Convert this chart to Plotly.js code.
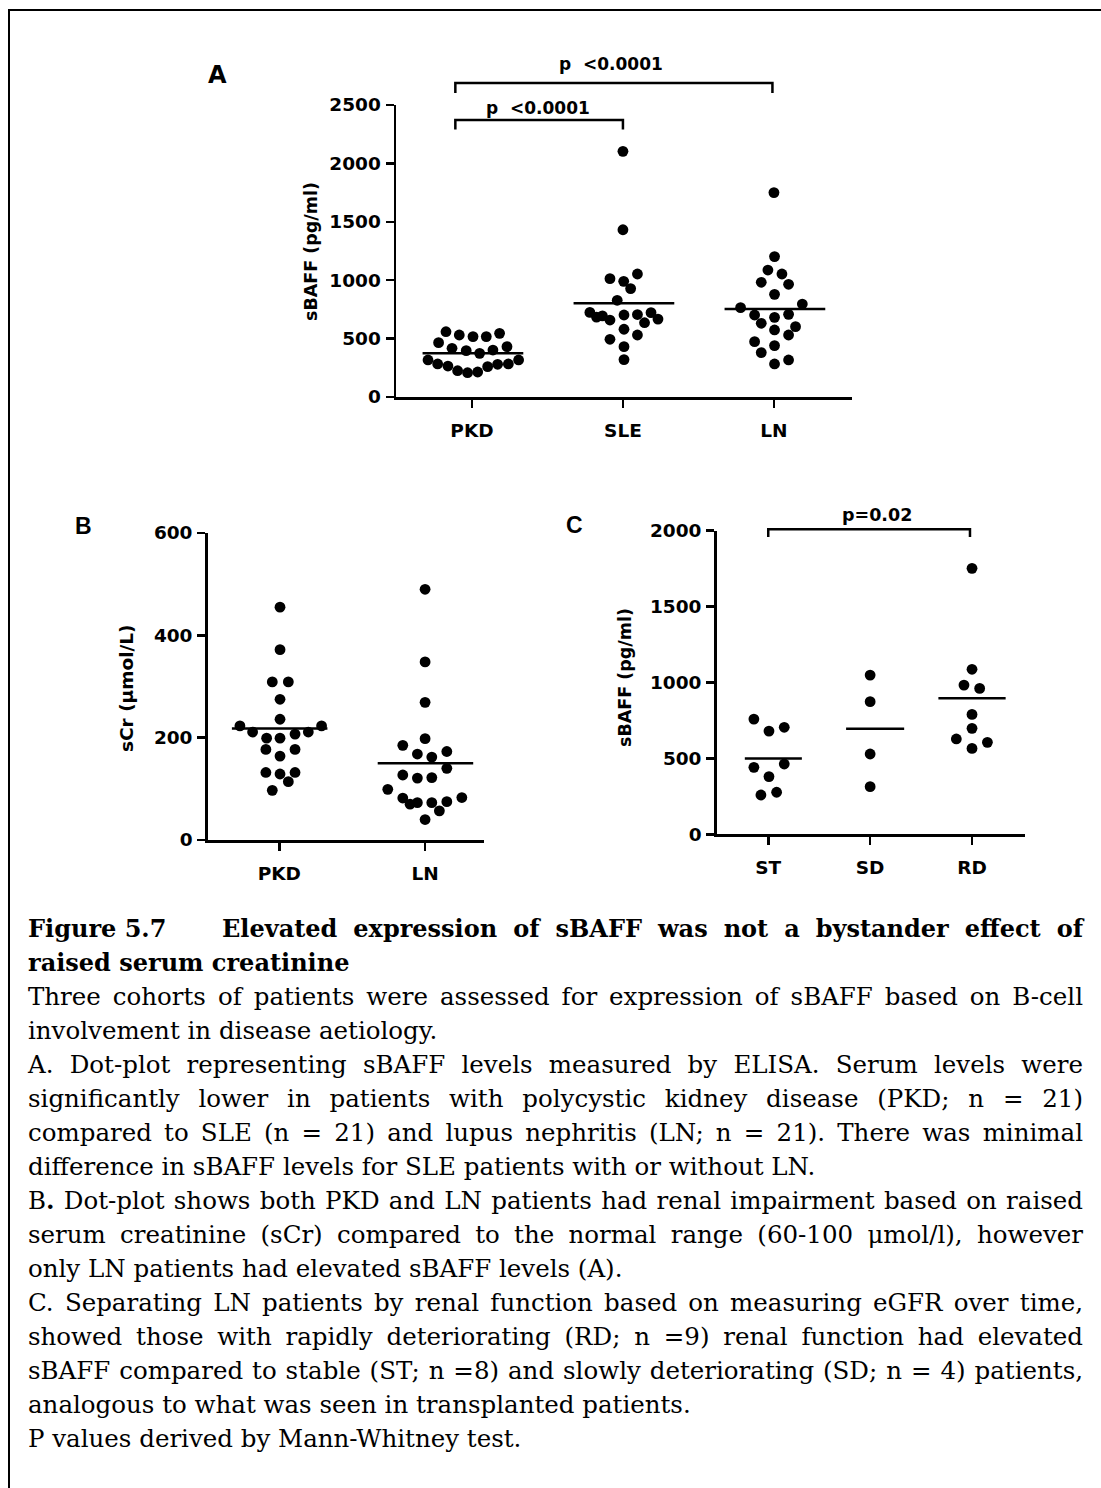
<!DOCTYPE html>
<html>
<head>
<meta charset="utf-8">
<script src="https://cdn.plot.ly/plotly-3.0.1.min.js"></script>
<style>
  html, body { margin:0; padding:0; background:#fff; width:1101px; height:1488px; overflow:hidden; }
  #frame { position:absolute; left:8px; top:9px; width:1200px; height:1600px; border-left:2.5px solid #000; border-top:2.5px solid #000; }
  #plot { position:absolute; left:0; top:0; width:1101px; height:900px; }
  #caption { position:absolute; left:28px; top:912px; width:1055px; font-family:'DejaVu Serif', serif; font-size:24.5px; line-height:34px; color:#000; }
  #caption .j { text-align:justify; text-align-last:justify; }
  #caption .l { text-align:left; }
  #caption .t { display:flex; font-weight:bold; font-size:24px; }
  #caption .t .a { width:194px; flex:none; }
  #caption .t .b { flex:1; text-align:justify; text-align-last:justify; }
  #caption .bd { font-weight:bold; font-size:24px; }
</style>
</head>
<body>
<div id="frame"></div>
<div id="plot"></div>
<div id="caption">
  <div class="t"><span class="a">Figure 5.7</span><span class="b">Elevated expression of sBAFF was not a bystander effect of</span></div>
  <div class="l bd">raised serum creatinine</div>
  <div class="j">Three cohorts of patients were assessed for expression of sBAFF based on B-cell</div>
  <div class="l">involvement in disease aetiology.</div>
  <div class="j">A. Dot-plot representing sBAFF levels measured by ELISA. Serum levels were</div>
  <div class="j">significantly lower in patients with polycystic kidney disease (PKD; n = 21)</div>
  <div class="j">compared to SLE (n = 21) and lupus nephritis (LN; n = 21). There was minimal</div>
  <div class="l">difference in sBAFF levels for SLE patients with or without LN.</div>
  <div class="j">B<b>.</b> Dot-plot shows both PKD and LN patients had renal impairment based on raised</div>
  <div class="j">serum creatinine (sCr) compared to the normal range (60-100 μmol/l), however</div>
  <div class="l">only LN patients had elevated sBAFF levels (A).</div>
  <div class="j">C. Separating LN patients by renal function based on measuring eGFR over time,</div>
  <div class="j">showed those with rapidly deteriorating (RD; n =9) renal function had elevated</div>
  <div class="j">sBAFF compared to stable (ST; n =8) and slowly deteriorating (SD; n = 4) patients,</div>
  <div class="l">analogous to what was seen in transplanted patients.</div>
  <div class="l">P values derived by Mann-Whitney test.</div>
</div>
<script>
// ---------------- DATA ----------------
// Panel A: sBAFF (pg/ml)
const catsA = ['PKD', 'SLE', 'LN'];
const pkdA = [559, 531, 517, 517, 545, 465, 417, 397, 374, 402, 431, 317, 283, 265, 225, 208, 214, 260, 280, 283, 317];
const pkdAJit = [-0.172, -0.084, 0.007, 0.095, 0.183, -0.221, -0.132, -0.038, 0.051, 0.139, 0.232, -0.291, -0.227, -0.159, -0.095, -0.029, 0.038, 0.104, 0.170, 0.241, 0.309];
const sleA = [2103, 1432, 1013, 990, 1053, 928, 828, 724, 684, 694, 659, 702, 706, 722, 667, 636, 580, 494, 531, 431, 320];
const sleAJit = [0, 0, -0.086, 0.005, 0.096, 0.051, -0.038, -0.219, -0.175, -0.136, -0.086, 0.007, 0.096, 0.186, 0.232, 0.143, 0.007, -0.086, 0.096, 0.007, 0.007];
const lnA = [1750, 1202, 1087, 1053, 982, 965, 879, 796, 765, 702, 682, 708, 631, 602, 574, 531, 474, 440, 380, 317, 283];
const lnAJit = [0, 0.004, -0.040, 0.053, -0.084, 0.097, 0.004, 0.188, -0.221, -0.128, 0.004, 0.097, -0.084, 0.143, 0.004, 0.097, -0.128, 0.004, -0.084, 0.097, 0.004];
const medA = [374, 802, 753];
const ticksA = [0, 500, 1000, 1500, 2000, 2500];

// Panel B: sCr (µmol/L)
const catsB = ['PKD', 'LN'];
const pkdB = [455, 372, 309, 309, 275, 236, 223, 223, 211, 199, 199, 207, 211, 177, 164, 177, 132, 129, 132, 114, 97];
const pkdBJit = [0.005, 0.005, -0.048, 0.062, 0.005, 0.005, -0.27, 0.29, -0.183, -0.087, 0.005, 0.108, 0.199, -0.092, 0.005, 0.108, -0.092, 0.005, 0.108, 0.062, -0.048];
const lnB = [490, 348, 269, 198, 185, 173, 168, 162, 140, 127, 121, 122, 99, 83, 82, 70, 73, 73, 75, 57, 40];
const lnBJit = [0, 0, 0, 0, -0.153, 0.149, -0.053, 0.046, 0.149, -0.153, -0.053, 0.046, -0.256, 0.252, -0.153, -0.103, -0.053, 0.046, 0.149, 0.098, 0];
const medB = [218, 150];
const ticksB = [0, 200, 400, 600];

// Panel C: sBAFF (pg/ml) in LN by renal function
const catsC = ['ST', 'SD', 'RD'];
const stC = [759, 680, 705, 441, 463, 380, 259, 277];
const stCJit = [-0.141, 0.007, 0.157, -0.141, 0.157, 0.007, -0.072, 0.082];
const sdC = [1049, 874, 529, 314];
const sdCJit = [0, 0, 0, 0];
const rdC = [1752, 1087, 983, 961, 790, 698, 628, 566, 606];
const rdCJit = [0, 0, -0.079, 0.075, 0, 0, -0.154, 0, 0.151];
const medC = [500, 696, 896];
const ticksC = [0, 500, 1000, 1500, 2000];

// p-value labels
const pLabelsA = ['p\u00a0 <0.0001', 'p\u00a0 <0.0001'];
const pLabelC = 'p=0.02';

// ---------------- LAYOUT HELPERS ----------------
const W = 1101, H = 900;
const px = v => v / W;
const py = v => 1 - v / H;

const traces = [];
function addGroup(vals, jit, idx, xa, ya) {
  traces.push({
    type: 'scatter', mode: 'markers', xaxis: xa, yaxis: ya,
    x: vals.map((v, i) => idx + jit[i]), y: vals,
    marker: { color: '#000', size: 10.8, line: { width: 0 } },
    hoverinfo: 'y', showlegend: false, cliponaxis: false
  });
}
function addMedian(m, idx, lo, hi, xa, ya) {
  traces.push({
    type: 'scatter', mode: 'lines', xaxis: xa, yaxis: ya,
    x: [idx + lo, idx + hi], y: [m, m],
    line: { color: '#000', width: 2.5 }, hoverinfo: 'skip', showlegend: false
  });
}

addGroup(pkdA, pkdAJit, 0, 'x', 'y');
addGroup(sleA, sleAJit, 1, 'x', 'y');
addGroup(lnA, lnAJit, 2, 'x', 'y');
medA.forEach((m, i) => addMedian(m, i, -0.327, 0.34, 'x', 'y'));

addGroup(pkdB, pkdBJit, 0, 'x2', 'y2');
addGroup(lnB, lnBJit, 1, 'x2', 'y2');
medB.forEach((m, i) => addMedian(m, i, -0.325, 0.33, 'x2', 'y2'));

addGroup(stC, stCJit, 0, 'x3', 'y3');
addGroup(sdC, sdCJit, 1, 'x3', 'y3');
addGroup(rdC, rdCJit, 2, 'x3', 'y3');
addMedian(medC[0], 0, -0.23, 0.33, 'x3', 'y3');
addMedian(medC[1], 1, -0.236, 0.334, 'x3', 'y3');
addMedian(medC[2], 2, -0.33, 0.33, 'x3', 'y3');

const tickFont = { family: 'DejaVu Sans', size: 18.5, color: '#000', weight: 'bold' };
const axCommon = {
  showline: true, linecolor: '#000', linewidth: 2.5, mirror: false,
  ticks: 'outside', ticklen: 8, tickwidth: 2.5, tickcolor: '#000',
  showgrid: false, zeroline: false, fixedrange: true, tickfont: tickFont
};
const xCommon = Object.assign({}, axCommon, { ticklabelstandoff: 7 });
const yCommon = Object.assign({}, axCommon, { ticklabelstandoff: 1 });

function bracket(xref, x0, x1, yTop, yLeg) {
  return {
    type: 'path', xref: xref, yref: 'paper',
    path: `M ${x0},${py(yLeg)} L ${x0},${py(yTop)} L ${x1},${py(yTop)} L ${x1},${py(yLeg)}`,
    line: { color: '#000', width: 2.5 }
  };
}

const boldSans = (s) => ({ family: 'DejaVu Sans', size: s, color: '#000', weight: 'bold' });
const letterFont = { family: 'Liberation Sans', size: 23, color: '#000', weight: 'bold' };

const layout = {
  width: W, height: H, autosize: false,
  margin: { l: 0, r: 0, t: 0, b: 0, pad: 0 },
  paper_bgcolor: 'rgba(0,0,0,0)', plot_bgcolor: 'rgba(0,0,0,0)',
  showlegend: false,
  xaxis: Object.assign({}, xCommon, { domain: [px(396), px(852)], range: [-0.503, 2.517], tickvals: [0, 1, 2], ticktext: catsA, anchor: 'y' }),
  yaxis: Object.assign({}, yCommon, { domain: [py(397), py(105)], range: [0, 2500], tickvals: ticksA, anchor: 'x' }),
  xaxis2: Object.assign({}, xCommon, { domain: [px(207.7), px(484)], range: [-0.491, 1.404], tickvals: [0, 1], ticktext: catsB, anchor: 'y2' }),
  yaxis2: Object.assign({}, yCommon, { domain: [py(840), py(533)], range: [0, 600], tickvals: ticksB, anchor: 'x2' }),
  xaxis3: Object.assign({}, xCommon, { domain: [px(716.7), px(1025)], range: [-0.506, 2.52], tickvals: [0, 1, 2], ticktext: catsC, anchor: 'y3' }),
  yaxis3: Object.assign({}, yCommon, { domain: [py(834.3), py(530.7)], range: [0, 2000], tickvals: ticksC, anchor: 'x3' }),
  shapes: [
    bracket('x', -0.11, 1.0, 120, 129.5),
    bracket('x', -0.11, 1.99, 83, 93),
    bracket('x3', 0.0, 1.98, 529.3, 537)
  ],
  annotations: [
    { text: 'A', xref: 'paper', yref: 'paper', x: px(217), y: py(75), xanchor: 'center', yanchor: 'middle', showarrow: false, font: boldSans(24) },
    { text: 'B', xref: 'paper', yref: 'paper', x: px(83), y: py(526), xanchor: 'center', yanchor: 'middle', showarrow: false, font: letterFont },
    { text: 'C', xref: 'paper', yref: 'paper', x: px(574), y: py(525), xanchor: 'center', yanchor: 'middle', showarrow: false, font: letterFont },
    { text: 'sBAFF (pg/ml)', xref: 'paper', yref: 'paper', x: px(311), y: py(252), xanchor: 'center', yanchor: 'middle', textangle: -90, showarrow: false, font: boldSans(17.5) },
    { text: 'sCr (µmol/L)', xref: 'paper', yref: 'paper', x: px(126), y: py(688), xanchor: 'center', yanchor: 'middle', textangle: -90, showarrow: false, font: boldSans(18.5) },
    { text: 'sBAFF (pg/ml)', xref: 'paper', yref: 'paper', x: px(625), y: py(678), xanchor: 'center', yanchor: 'middle', textangle: -90, showarrow: false, font: boldSans(17.5) },
    { text: pLabelsA[0], xref: 'x', yref: 'paper', x: 0.44, y: py(108), xanchor: 'center', yanchor: 'middle', showarrow: false, font: boldSans(17) },
    { text: pLabelsA[1], xref: 'x', yref: 'paper', x: 0.92, y: py(64), xanchor: 'center', yanchor: 'middle', showarrow: false, font: boldSans(17) },
    { text: pLabelC, xref: 'x3', yref: 'paper', x: 1.067, y: py(515), xanchor: 'center', yanchor: 'middle', showarrow: false, font: boldSans(17.5) }
  ]
};

Plotly.newPlot('plot', traces, layout, { staticPlot: true, displayModeBar: false });
</script>
</body>
</html>
